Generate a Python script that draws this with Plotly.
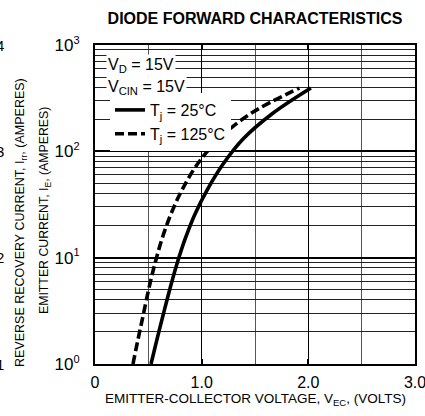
import plotly.graph_objects as go

# Tj = 25 C (solid)
v_25 = [0.525, 0.582, 0.641, 0.702, 0.768, 0.845, 0.938, 1.056, 1.201, 1.388, 1.658, 2.024]
i_25 = [1.0, 1.72, 2.95, 5.08, 8.72, 15.0, 25.8, 44.2, 76.0, 130.6, 224.5, 394]
# Tj = 125 C (dashed)
v_125 = [0.356, 0.404, 0.454, 0.504, 0.561, 0.628, 0.7125, 0.820, 0.961, 1.160, 1.453, 1.916]
i_125 = [1.0, 1.72, 2.95, 5.08, 8.72, 15.0, 25.8, 44.2, 76.0, 130.6, 224.5, 394]

x_tickvals = [0, 1, 2, 3]
x_ticktext = ["0", "1.0", "2.0", "3.0"]
y_tickvals = [1, 10, 100, 1000]
y_exponents = ["0", "1", "2", "3"]
side_digits = ["4", "3", "2", "1"]

FONT = "Liberation Sans, Arial, sans-serif"

y_ticktext = ["10<sup><span style='font-size:11px'>%s</span></sup>" % e for e in y_exponents]

fig = go.Figure()
fig.add_trace(go.Scatter(x=v_25, y=i_25, mode="lines", name="T<sub>j</sub> = 25°C",
                         line=dict(color="black", width=3.6, shape="spline", smoothing=1.0)))
fig.add_trace(go.Scatter(x=v_125, y=i_125, mode="lines", name="T<sub>j</sub> = 125°C",
                         line=dict(color="black", width=3.6, dash="9px,4px", shape="spline", smoothing=1.0)))

W, H = 425, 416
L, R, T, B = 95, 10, 45, 52
pw = W - L - R
ph = H - T - B


def px_x(p):
    return (p - L) / pw


def px_y(p):
    return (H - B - p) / ph


fig.update_layout(
    width=W, height=H,
    margin=dict(l=L, r=R, t=T, b=B, autoexpand=False),
    paper_bgcolor="white", plot_bgcolor="white",
    font=dict(family=FONT, color="black", size=15),
    showlegend=True,
    legend=dict(x=px_x(110), y=px_y(93), xanchor="left", yanchor="top",
                bgcolor="white", borderwidth=0,
                font=dict(size=16, family=FONT, color="black"),
                tracegroupgap=0, itemwidth=30),
    title=dict(text="<b>DIODE FORWARD CHARACTERISTICS</b>", xref="paper", x=0.5, xanchor="center",
               y=1 - 18 / H, yanchor="middle", font=dict(size=16, family=FONT)),
)

fig.update_xaxes(
    range=[0, 3], tickvals=x_tickvals, ticktext=x_ticktext, automargin=False,
    showgrid=True, gridcolor="black", gridwidth=1,
    minor=dict(dtick=0.5, showgrid=True, gridcolor="#555", gridwidth=1, ticks=""),
    ticks="inside", ticklen=5, tickwidth=2, tickcolor="black",
    showline=True, linecolor="black", linewidth=2, mirror="ticks",
    zeroline=False, tickfont=dict(size=16), ticklabelstandoff=3,
    ticklabeloverflow="allow",
)
fig.update_yaxes(
    type="log", range=[0, 3], tickvals=y_tickvals, ticktext=y_ticktext, automargin=False,
    showgrid=True, gridcolor="black", gridwidth=1.5,
    minor=dict(dtick="D1", showgrid=True, gridcolor="#222", gridwidth=1, ticks=""),
    ticks="inside", ticklen=6, tickwidth=2, tickcolor="black",
    showline=True, linecolor="black", linewidth=2, mirror="ticks",
    zeroline=False, tickfont=dict(size=17), ticklabelstandoff=10,
)

ann = []
ann.append(dict(text="V<sub>D</sub> = 15V", xref="paper", yref="paper",
                x=px_x(106), y=px_y(65), xanchor="left", yanchor="middle", showarrow=False,
                bgcolor="white", borderpad=1, font=dict(size=16)))
ann.append(dict(text="V<sub>CIN</sub> = 15V", xref="paper", yref="paper",
                x=px_x(106), y=px_y(87), xanchor="left", yanchor="middle", showarrow=False,
                bgcolor="white", borderpad=1, font=dict(size=16)))
ann.append(dict(text="EMITTER CURRENT, I<sub>E</sub>, (AMPERES)", xref="paper", yref="paper",
                x=px_x(45), y=px_y(211), textangle=-90, showarrow=False,
                xanchor="center", yanchor="middle", font=dict(size=12.3)))
ann.append(dict(text="REVERSE RECOVERY CURRENT, I<sub>rr</sub>, (AMPERES)", xref="paper", yref="paper",
                x=px_x(21), y=px_y(223), textangle=-90, showarrow=False,
                xanchor="center", yanchor="middle", font=dict(size=12.5)))
ann.append(dict(text="EMITTER-COLLECTOR VOLTAGE, V<sub>EC</sub>, (VOLTS)", xref="paper", yref="paper",
                x=0.5, y=px_y(399), showarrow=False,
                xanchor="center", yanchor="middle", font=dict(size=13.5)))
for k, d in enumerate(side_digits):
    ann.append(dict(text=d, xref="paper", yref="paper", x=px_x(6), y=1 - k / 3,
                    showarrow=False, xanchor="right", yanchor="middle", font=dict(size=15)))
fig.update_layout(annotations=ann)

fig.write_html("out.html", config={"displayModeBar": False},
               post_script="document.body.style.margin='0';document.body.style.padding='0';")
